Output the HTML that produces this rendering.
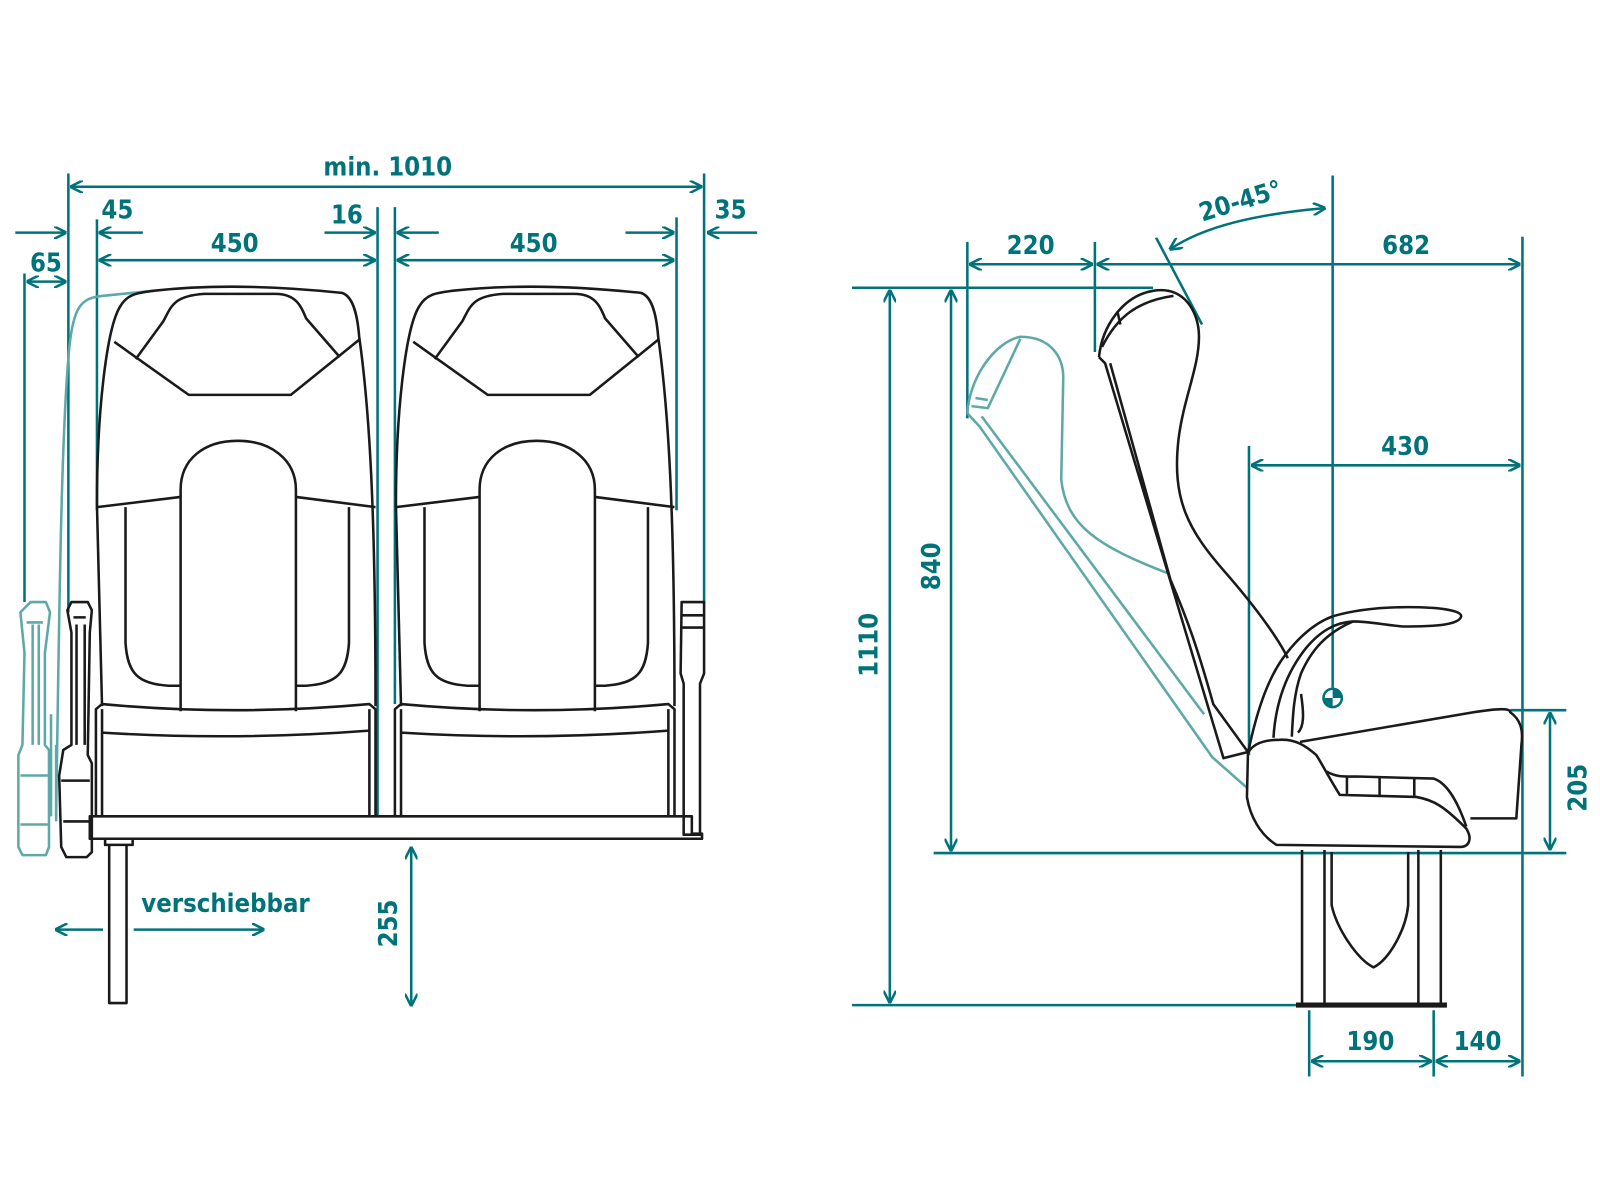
<!DOCTYPE html>
<html><head><meta charset="utf-8"><style>html,body{margin:0;padding:0;background:#fff}svg{display:block}</style></head>
<body>
<svg width="1600" height="1200" viewBox="0 0 1568 1176" preserveAspectRatio="none" xmlns="http://www.w3.org/2000/svg">
<defs>
<marker id="a" viewBox="0 0 10 10" refX="9" refY="5" markerWidth="5" markerHeight="5" orient="auto-start-reverse"><path d="M0,0 L10,5 L0,10" fill="none" stroke="#00737a" stroke-width="2"/></marker>
</defs>
<g font-family="'DejaVu Sans Condensed','Liberation Sans Narrow','Liberation Sans',sans-serif" font-weight="bold" font-size="25" fill="#00737a" text-anchor="middle">
<text x="380" y="172">min. 1010</text>
<text x="115" y="214">45</text>
<text x="340" y="219">16</text>
<text x="716" y="214">35</text>
<text x="230" y="247">450</text>
<text x="523" y="247">450</text>
<text x="45" y="266">65</text>
<text x="221" y="894">verschiebbar</text>
<text transform="translate(389,905) rotate(-90)">255</text>
<text x="1010" y="249">220</text>
<text x="1378" y="249">682</text>
<text x="1377" y="446">430</text>
<text transform="translate(1218,205) rotate(-17)">20-45°</text>
<text transform="translate(860,632) rotate(-90)">1110</text>
<text transform="translate(921,555) rotate(-90)">840</text>
<text transform="translate(1555,772) rotate(-90)">205</text>
<text x="1343" y="1029">190</text>
<text x="1448" y="1029">140</text>
</g>
<g stroke="#00737a" stroke-width="2.5" fill="none">
<!-- left dims -->
<line x1="67" y1="170" x2="67" y2="600"/>
<line x1="690" y1="170" x2="690" y2="592"/>
<line x1="24" y1="268" x2="24" y2="590"/>
<line x1="95" y1="215" x2="95" y2="500"/>
<line x1="370" y1="203" x2="370" y2="800"/>
<line x1="387" y1="203" x2="387" y2="690"/>
<line x1="663" y1="213" x2="663" y2="500"/>
<line x1="70" y1="183" x2="687" y2="183" marker-start="url(#a)" marker-end="url(#a)"/>
<line x1="98" y1="255" x2="367" y2="255" marker-start="url(#a)" marker-end="url(#a)"/>
<line x1="390" y1="255" x2="660" y2="255" marker-start="url(#a)" marker-end="url(#a)"/>
<line x1="140" y1="228" x2="98" y2="228" marker-end="url(#a)"/>
<line x1="318" y1="228" x2="367" y2="228" marker-end="url(#a)"/>
<line x1="430" y1="228" x2="390" y2="228" marker-end="url(#a)"/>
<line x1="613" y1="228" x2="660" y2="228" marker-end="url(#a)"/>
<line x1="742" y1="228" x2="694" y2="228" marker-end="url(#a)"/>
<line x1="15" y1="228" x2="64" y2="228" marker-end="url(#a)"/>
<line x1="27" y1="276" x2="64" y2="276" marker-start="url(#a)" marker-end="url(#a)"/>
<line x1="101" y1="911" x2="55" y2="911" marker-end="url(#a)"/>
<line x1="131" y1="911" x2="258" y2="911" marker-end="url(#a)"/>
<line x1="403" y1="831" x2="403" y2="985" marker-start="url(#a)" marker-end="url(#a)"/>
<!-- right dims -->
<line x1="835" y1="282" x2="1130" y2="282"/>
<line x1="915" y1="836" x2="1535" y2="836"/>
<line x1="835" y1="985" x2="1270" y2="985"/>
<line x1="1480" y1="696" x2="1535" y2="696"/>
<line x1="872" y1="285" x2="872" y2="982" marker-start="url(#a)" marker-end="url(#a)"/>
<line x1="932" y1="285" x2="932" y2="833" marker-start="url(#a)" marker-end="url(#a)"/>
<line x1="948" y1="237" x2="948" y2="410"/>
<line x1="1073" y1="237" x2="1073" y2="345"/>
<line x1="1492" y1="232" x2="1492" y2="1055"/>
<line x1="1306" y1="172" x2="1306" y2="676"/>
<line x1="1224" y1="437" x2="1224" y2="740"/>
<line x1="951" y1="259" x2="1070" y2="259" marker-start="url(#a)" marker-end="url(#a)"/>
<line x1="1076" y1="259" x2="1489" y2="259" marker-start="url(#a)" marker-end="url(#a)"/>
<line x1="1227" y1="456" x2="1489" y2="456" marker-start="url(#a)" marker-end="url(#a)"/>
<line x1="1519" y1="699" x2="1519" y2="832" marker-start="url(#a)" marker-end="url(#a)"/>
<line x1="1283" y1="990" x2="1283" y2="1055"/>
<line x1="1405" y1="990" x2="1405" y2="1055"/>
<line x1="1286" y1="1040" x2="1402" y2="1040" marker-start="url(#a)" marker-end="url(#a)"/>
<line x1="1408" y1="1040" x2="1489" y2="1040" marker-start="url(#a)" marker-end="url(#a)"/>
<line x1="1133" y1="233" x2="1178" y2="318"/>
<path d="M1298,204 C1230,210 1180,222 1147,244" marker-start="url(#a)" marker-end="url(#a)"/>
</g>
<circle cx="1306" cy="684" r="9" fill="#fff" stroke="#00737a" stroke-width="2.5"/>
<path d="M1306,684 L1306,675 A9,9 0 0 1 1315,684 Z M1306,684 L1306,693 A9,9 0 0 1 1297,684 Z" fill="#00737a"/>
<!-- ghost teal -->
<g stroke="#5fa8a8" stroke-width="2.5" fill="none" stroke-linejoin="round">
<path d="M55,800 C58,600 60,420 68,340 C72,300 80,292 100,290 L150,285"/>
<path d="M30,590 L45,590 L49,600 L44,640 L44,730 L48,735 L48,830 L45,838 L22,838 L18,830 L18,740 L22,730 L24,640 L20,600 Z M26,610 L42,610 M32,612 L32,730 M38,612 L38,730 M20,760 L48,760 M20,808 L48,808"/>
<path d="M55,730 L55,805 M50,700 L50,800"/>
<path d="M948,405 C950,370 975,335 1000,330 C1030,330 1042,350 1042,370 L1040,470 C1045,515 1075,535 1145,562"/>
<path d="M952,398 L968,400 L1000,332 M948,405 L960,418 L1188,742 L1222,772 M962,408 L1180,700"/>
<path d="M956,390 L968,392"/>
</g>
<!-- black drawing -->
<g stroke="#1a1a1a" stroke-width="2.5" fill="none" stroke-linejoin="round">
<g id="seat">
<path d="M100,692 L95,495 C95,400 105,320 118,300 C125,288 135,287 150,285 Q230,276 335,287 C345,290 350,305 352,330 C362,400 368,500 368,692"/>
<path d="M112,335 L185,387 L285,387 L352,333"/>
<path d="M133,352 L160,315 C168,300 170,290 200,288 L270,288 C290,288 295,300 300,312 L333,350"/>
<path d="M95,497 L177,487 M290,487 L368,497"/>
<path d="M177,697 L177,480 C177,450 200,432 233,432 C265,432 290,450 290,480 L290,697"/>
<path d="M123,497 L123,630 C125,660 135,670 165,672 L177,672 M342,497 L342,630 C340,660 330,670 300,672 L290,672"/>
<path d="M94,800 L94,695 L100,690 Q230,702 362,690 L368,695 L368,800 M100,695 L100,800 M362,695 L362,800 M100,718 Q230,726 362,716"/>
</g>
<use href="#seat" transform="translate(293,0)"/>
<path d="M88,800 L678,800 L678,817 L688,817 L688,822 L88,822 Z"/>
<path d="M103,822 L130,822 L130,828 L103,828 Z M107,828 L124,828 L124,983 L107,983 Z"/>
<path d="M70,590 L86,590 L90,598 L88,620 L86,740 L90,748 L90,835 L85,840 L65,840 L60,830 L58,760 L62,735 L70,730 L70,620 L66,598 Z M72,605 L84,605 M75,612 L75,730 M83,612 L83,730 M60,765 L88,765 M62,805 L88,805"/>
<path d="M668,590 L690,590 L690,660 L686,670 L686,818 L670,818 L670,670 L667,660 Z M668,603 L690,603 M668,615 L690,615"/>
<!-- side seat -->
<path d="M1077,350 C1080,320 1100,290 1130,285 C1160,280 1175,305 1175,330 C1175,360 1160,390 1155,430 C1148,490 1165,520 1200,560 C1235,600 1255,630 1262,645"/>
<path d="M1080,340 C1095,310 1115,295 1150,290 M1095,305 L1098,318"/>
<path d="M1077,350 L1083,356 L1199,743 L1223,737 M1088,356 L1147,568 C1165,610 1175,640 1189,690 L1223,737"/>
<path d="M1274,727 L1444,698 C1470,694 1480,694 1480,698 C1490,705 1493,715 1491,730 L1486,802 L1441,802"/>
<path d="M1223,738 C1228,728 1240,725 1254,725 C1270,724 1281,732 1290,740 C1297,751 1300,758 1313,779 L1388,781 C1405,784 1415,790 1437,812 C1443,822 1440,830 1431,830 L1251,828 C1235,818 1225,800 1222,781 Z"/>
<path d="M1300,756 C1310,762 1318,761 1330,761 L1405,763 C1420,768 1430,790 1437,810"/>
<path d="M1320,761 L1320,778 M1352,761 L1352,780 M1386,762 L1386,780"/>
<path d="M1223,738 C1233,690 1245,660 1261,640 C1275,622 1290,610 1306,604 C1330,597 1359,595 1380,595 C1410,595 1432,598 1432,604 C1430,612 1410,614 1375,614 C1355,612 1340,609 1326,609 M1248,723 C1250,690 1260,660 1280,635 C1295,617 1310,610 1326,609 M1326,609 C1300,620 1285,637 1275,660 C1268,680 1267,700 1266,722 M1275,680 C1278,700 1278,712 1272,718"/>
<path d="M1276,833 L1276,985 M1298,833 L1298,985 M1390,833 L1390,985 M1412,833 L1412,985"/>
<path d="M1305,835 L1305,887 C1310,910 1330,940 1346,948 C1362,940 1378,910 1380,887 L1380,835"/>
</g>
<line x1="1270" y1="985" x2="1418" y2="985" stroke="#1a1a1a" stroke-width="5"/>
</svg>
</body></html>
